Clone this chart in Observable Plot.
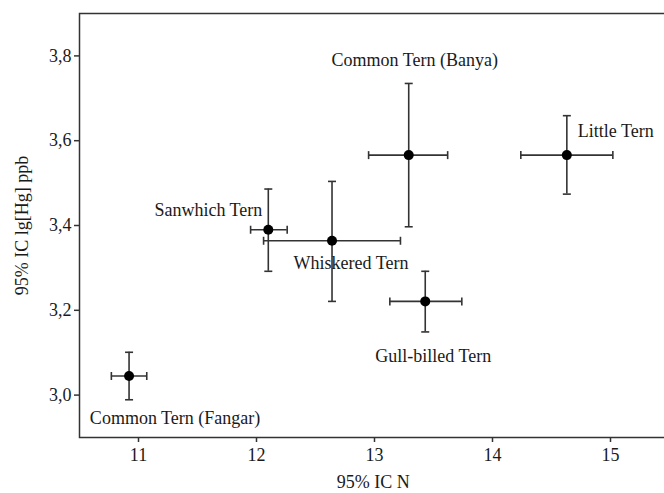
<!DOCTYPE html>
<html>
<head>
<meta charset="utf-8">
<script src="https://cdn.jsdelivr.net/npm/d3@7"></script>
<script src="https://cdn.jsdelivr.net/npm/@observablehq/plot@0.6"></script>
<style>
  html, body { margin: 0; padding: 0; background: #fff; overflow: hidden; }
  #chart { width: 664px; height: 493px; overflow: hidden; }
</style>
</head>
<body>
<div id="chart"></div>
<script>
// ---- data ----
const species = ["Common Tern (Fangar)", "Sanwhich Tern", "Whiskered Tern", "Common Tern (Banya)", "Little Tern", "Gull-billed Tern"];
const meanN  = [10.92, 12.10, 12.64, 13.29, 14.63, 13.43];
const lowN   = [10.77, 11.95, 12.06, 12.95, 14.24, 13.13];
const highN  = [11.07, 12.26, 13.22, 13.62, 15.02, 13.74];
const meanHg = [3.045, 3.390, 3.364, 3.566, 3.566, 3.221];
const lowHg  = [2.989, 3.292, 3.221, 3.397, 3.474, 3.149];
const highHg = [3.101, 3.486, 3.504, 3.735, 3.659, 3.292];
const xTicks = [11, 12, 13, 14, 15];
const yTicks = [3.0, 3.2, 3.4, 3.6, 3.8];
const xTitle = "95% IC N";
const yTitle = "95% IC lg[Hg] ppb";

// label placement (styling, in pixels relative to each point)
const labelDx     = [46, -6, 19, 6, 11, 8];
const labelDy     = [42, -20, 22, -95, -24, 55];
const labelAnchor = ["middle", "end", "middle", "middle", "start", "middle"];

const rows = species.map((s, i) => ({
  species: s, n: meanN[i], n1: lowN[i], n2: highN[i],
  hg: meanHg[i], hg1: lowHg[i], hg2: highHg[i],
  dx: labelDx[i], dy: labelDy[i], anchor: labelAnchor[i]
}));

const capH = { draw(ctx, size) { const r = Math.sqrt(size / Math.PI); ctx.moveTo(-r, 0); ctx.lineTo(r, 0); } };
const capV = { draw(ctx, size) { const r = Math.sqrt(size / Math.PI); ctx.moveTo(0, -r); ctx.lineTo(0, r); } };

const ink = "#333";
const fmt = d => d.toFixed(1).replace(".", ",");

const labelMarks = rows.map(d => Plot.text([d], {
  x: "n", y: "hg", text: "species", dx: d.dx, dy: d.dy,
  textAnchor: d.anchor, fill: "#1a1a1a", fontSize: 18
}));

const chart = Plot.plot({
  width: 664,
  height: 493,
  marginLeft: 79,
  marginTop: 13,
  marginBottom: 56,
  marginRight: -5,
  style: { fontFamily: "'Liberation Serif', 'Times New Roman', serif", fontSize: "18px", color: "#1a1a1a", background: "#fff" },
  x: { domain: [10.5, 15.5], ticks: xTicks, tickSize: 5, tickPadding: 6, label: null, tickFormat: d => String(d) },
  y: { domain: [2.9, 3.9], ticks: yTicks, tickSize: 5, tickPadding: 3, label: null, tickFormat: fmt },
  marks: [
    Plot.frame({ stroke: ink, strokeWidth: 1.5 }),
    Plot.axisX({ ticks: xTicks, tickSize: 5, tickPadding: 6, stroke: ink, strokeWidth: 1.5, tickFormat: d => String(d), label: null, fontSize: 18 }),
    Plot.axisY({ ticks: yTicks, tickSize: 5, tickPadding: 3, stroke: ink, strokeWidth: 1.5, tickFormat: fmt, label: null, fontSize: 18 }),
    Plot.ruleX(rows, { x: "n", y1: "hg1", y2: "hg2", stroke: ink, strokeWidth: 1.6 }),
    Plot.ruleY(rows, { y: "hg", x1: "n1", x2: "n2", stroke: ink, strokeWidth: 1.6 }),
    Plot.dot(rows, { x: "n", y: "hg1", r: 4, symbol: capH, stroke: ink, strokeWidth: 1.6, fill: "none" }),
    Plot.dot(rows, { x: "n", y: "hg2", r: 4, symbol: capH, stroke: ink, strokeWidth: 1.6, fill: "none" }),
    Plot.dot(rows, { x: "n1", y: "hg", r: 4, symbol: capV, stroke: ink, strokeWidth: 1.6, fill: "none" }),
    Plot.dot(rows, { x: "n2", y: "hg", r: 4, symbol: capV, stroke: ink, strokeWidth: 1.6, fill: "none" }),
    Plot.dot(rows, { x: "n", y: "hg", r: 5, fill: "#000", stroke: "none" }),
    ...labelMarks,
    Plot.text([xTitle], { text: d => d, frameAnchor: "bottom", x: () => 12.99, dy: 45, lineAnchor: "middle", fontSize: 18, fill: "#1a1a1a" }),
    Plot.text([yTitle], { text: d => d, frameAnchor: "left", dx: -57, rotate: -90, textAnchor: "middle", lineAnchor: "middle", fontSize: 18, fill: "#1a1a1a" })
  ]
});
document.getElementById("chart").appendChild(chart);
</script>
</body>
</html>
